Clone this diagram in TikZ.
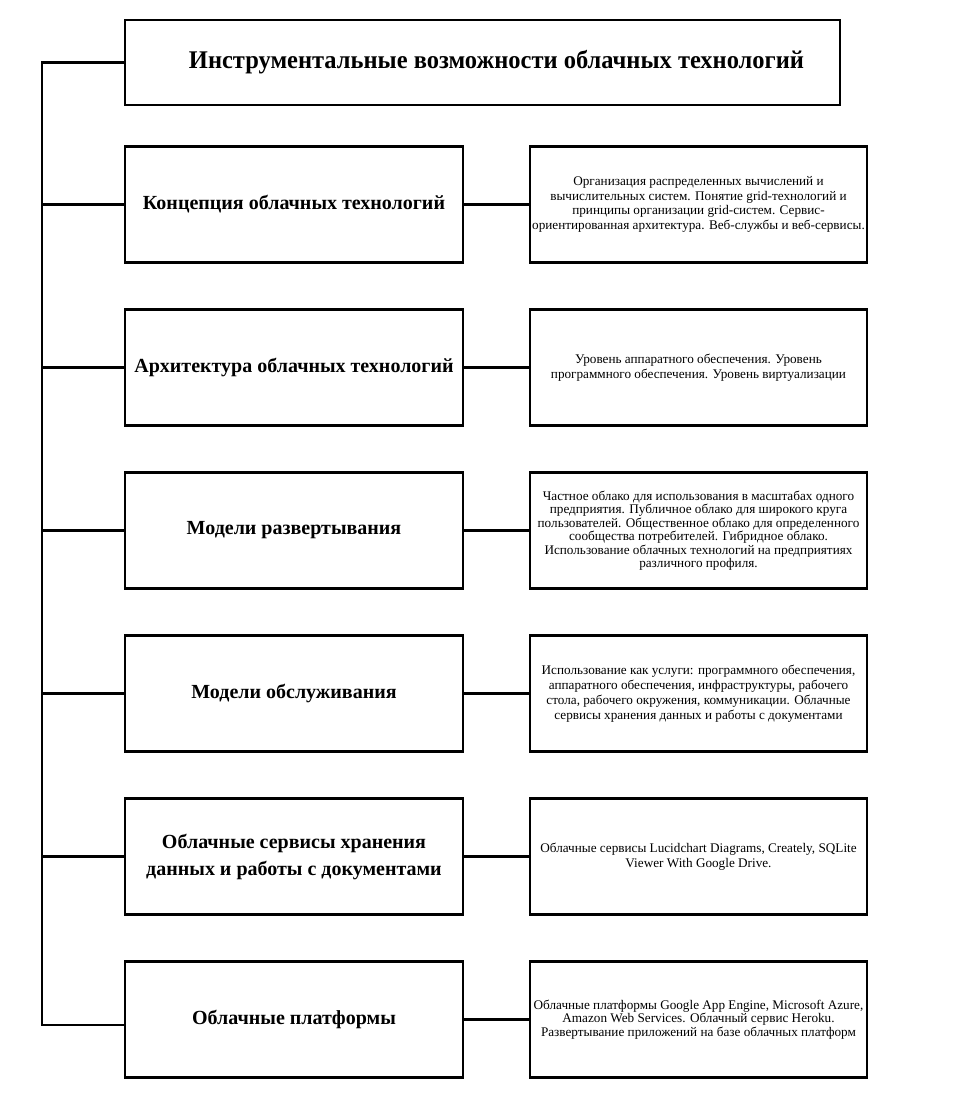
\documentclass[tikz,border=0pt]{standalone}
\usepackage{fontspec}
\setmainfont{Liberation Serif}
\begin{document}
\begin{tikzpicture}[x=1pt,y=-1pt,
  box/.style={draw=black,line width=2.6pt,fill=white,minimum width=#1,minimum height=116pt,inner sep=2pt,align=center},
  box/.default=338pt,
  lefttext/.style={font=\fontsize{20}{27}\selectfont\bfseries},
  righttext/.style={font=\fontsize{13.2}{14.8}\selectfont},
  tightright/.style={font=\fontsize{13.2}{13.5}\selectfont},
  conn/.style={line width=2.6pt,line cap=rect}]
\useasboundingbox (0,0) rectangle (961,1107);
\node[box=715pt,minimum height=85pt,font=\fontsize{24}{28}\selectfont\bfseries] (T) at (482.5,62.5) {\hspace*{28pt}\scalebox{1.02}[1.06]{Инструментальные возможности облачных технологий}};
\node[box,lefttext] (L1) at (294,204.5) {Концепция облачных технологий};
\node[box,lefttext] (L2) at (294,367.5) {Архитектура облачных технологий};
\node[box,lefttext] (L3) at (294,530.5) {Модели развертывания};
\node[box,lefttext] (L4) at (294,693.5) {Модели обслуживания};
\node[box,lefttext] (L5) at (294,856.5) {Облачные сервисы хранения\\данных и работы с документами};
\node[box,lefttext] (L6) at (294,1019.5) {Облачные платформы};
\node[box=337pt,righttext] (R1) at (698.5,204.5) {Организация распределенных вычислений и\\вычислительных систем. Понятие grid-технологий и\\принципы организации grid-систем. Сервис-\\ориентированная архитектура. Веб-службы и веб-сервисы.};
\node[box=337pt,righttext] (R2) at (698.5,367.5) {Уровень аппаратного обеспечения. Уровень\\программного обеспечения. Уровень виртуализации};
\node[box=337pt,tightright] (R3) at (698.5,530.5) {Частное облако для использования в масштабах одного\\предприятия. Публичное облако для широкого круга\\пользователей. Общественное облако для определенного\\сообщества потребителей. Гибридное облако.\\Использование облачных технологий на предприятиях\\различного профиля.};
\node[box=337pt,righttext] (R4) at (698.5,693.5) {Использование как услуги: программного обеспечения,\\аппаратного обеспечения, инфраструктуры, рабочего\\стола, рабочего окружения, коммуникации. Облачные\\сервисы хранения данных и работы с документами};
\node[box=337pt,righttext] (R5) at (698.5,856.5) {Облачные сервисы Lucidchart Diagrams, Creately, SQLite\\Viewer With Google Drive.};
\node[box=337pt,tightright] (R6) at (698.5,1019.5) {Облачные платформы Google App Engine, Microsoft Azure,\\Amazon Web Services. Облачный сервис Heroku.\\Развертывание приложений на базе облачных платформ};
\coordinate (S) at (42,62.5);
\coordinate (B) at (42,1025);
\draw[conn] (T.west) -- (S) -- (B) -- (B -| L6.west);
\foreach \i in {1,...,5} {
  \draw[conn] (S |- L\i.west) -- (L\i.west);
}
\foreach \i in {1,...,6} {
  \draw[conn] (L\i.east) -- (R\i.west);
}
\end{tikzpicture}
\end{document}
